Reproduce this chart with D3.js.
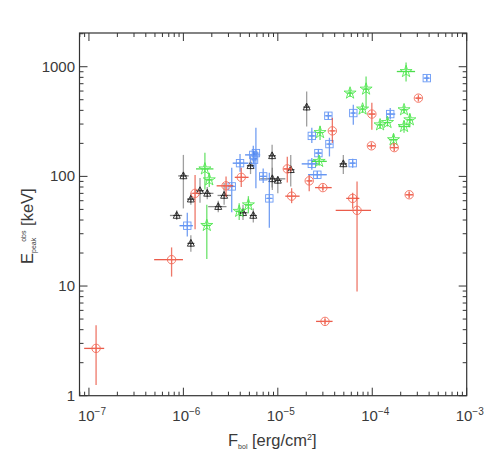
<!DOCTYPE html>
<html>
<head>
<meta charset="utf-8">
<script src="https://cdn.jsdelivr.net/npm/d3@7"></script>
<style>
  body { margin: 0; background: #fff; }
  text { font-family: "Liberation Sans", Arial, sans-serif; fill: #3a3a3a; }
</style>
</head>
<body>
<div id="chart"></div>
<script>
// each row: [F, F_lo, F_hi, E, E_lo, E_hi]
var redPts = [
  [1.19e-7, 8.9e-8, 1.45e-7, 2.7, 1.25, 4.4],
  [7.5e-7, 4.9e-7, 9.9e-7, 17.4, 12.2, 22.5],
  [1.33e-6, 1.25e-6, 1.42e-6, 70, 33, 103],
  [2.83e-6, 2.25e-6, 3.38e-6, 82, 65, 100],
  [4.1e-6, 3.5e-6, 4.9e-6, 98, 80, 120],
  [1.26e-5, 1.15e-5, 1.4e-5, 117, 88, 151],
  [1.4e-5, 1.2e-5, 1.7e-5, 66, 57, 78],
  [2.15e-5, 2.05e-5, 2.3e-5, 91, 73, 103],
  [3.0e-5, 2.48e-5, 3.72e-5, 79, 75, 84],
  [3.78e-5, 3.6e-5, 4.0e-5, 260, 202, 342],
  [3.16e-5, 2.54e-5, 3.8e-5, 4.76, 4.5, 5.0],
  [6.2e-5, 5.3e-5, 7.3e-5, 63, 51, 71],
  [6.9e-5, 4.1e-5, 9.7e-5, 49, 8.9, 90],
  [9.8e-5, 9.0e-5, 1.07e-4, 190, 180, 200],
  [1.71e-4, 1.55e-4, 1.88e-4, 183, 170, 197],
  [2.46e-4, 2.25e-4, 2.7e-4, 68, 64, 72],
  [3.08e-4, 2.9e-4, 3.3e-4, 517, 490, 545],
  [9.9e-5, 9.2e-5, 1.07e-4, 370, 266, 469]
];
var blackPts = [
  [1.0e-6, 8.8e-7, 1.14e-6, 101, 51, 157],
  [1.2e-6, 1.1e-6, 1.32e-6, 62, 55, 70],
  [8.5e-7, 7.2e-7, 9.7e-7, 44, 40, 49],
  [1.2e-6, 1.12e-6, 1.28e-6, 24.5, 20.5, 29],
  [1.5e-6, 1.35e-6, 1.65e-6, 74, 57.5, 96.5],
  [1.79e-6, 1.56e-6, 2.08e-6, 70, 62, 80],
  [2.34e-6, 1.83e-6, 2.86e-6, 53, 47, 60],
  [2.7e-6, 2.3e-6, 3.2e-6, 67, 55, 87],
  [4.28e-6, 3.8e-6, 4.8e-6, 46.6, 40, 55],
  [5.5e-6, 5.1e-6, 5.9e-6, 44, 38, 51],
  [5.14e-6, 4.7e-6, 5.6e-6, 125, 105, 150],
  [8.7e-6, 8.0e-6, 9.5e-6, 154, 79, 194],
  [8.75e-6, 6.5e-6, 1.2e-5, 95, 75, 120],
  [1.0e-5, 9.3e-6, 1.1e-5, 92, 70, 100],
  [1.37e-5, 1.25e-5, 1.5e-5, 115, 81, 157],
  [4.94e-5, 4.5e-5, 5.4e-5, 130, 105, 157],
  [2.02e-5, 1.92e-5, 2.12e-5, 428, 285, 594]
];
var bluePts = [
  [1.1e-6, 9.1e-7, 1.26e-6, 35.5, 28.3, 46.6],
  [3.25e-6, 3.0e-6, 3.5e-6, 81, 47, 120],
  [3.98e-6, 3.33e-6, 4.88e-6, 132, 110, 160],
  [5.5e-6, 4.5e-6, 6.5e-6, 157, 130, 190],
  [5.86e-6, 5.5e-6, 6.2e-6, 163, 78, 277],
  [5.6e-6, 5.3e-6, 5.9e-6, 142, 120, 170],
  [7.0e-6, 6.5e-6, 7.6e-6, 100, 87, 118],
  [8.13e-6, 7.7e-6, 8.6e-6, 63, 34, 108],
  [2.29e-5, 1.79e-5, 2.69e-5, 130, 115, 147],
  [2.62e-5, 2.09e-5, 3.3e-5, 103.5, 95, 112],
  [2.69e-5, 2.5e-5, 2.9e-5, 163, 150, 178],
  [2.29e-5, 2.15e-5, 2.45e-5, 234, 202, 277],
  [3.43e-5, 3.2e-5, 3.7e-5, 357, 330, 385],
  [3.52e-5, 3.35e-5, 3.7e-5, 197, 152, 225],
  [6.2e-5, 5.8e-5, 6.6e-5, 132, 120, 145],
  [6.3e-5, 6.0e-5, 6.6e-5, 378, 295, 450],
  [1.55e-4, 1.4e-4, 1.75e-4, 370, 330, 420],
  [3.78e-4, 3.55e-4, 4.0e-4, 787, 740, 835]
];
var greenPts = [
  [1.69e-6, 1.36e-6, 2.08e-6, 117, 76, 164],
  [1.88e-6, 1.75e-6, 2.0e-6, 93, 80, 108],
  [1.77e-6, 1.6e-6, 1.95e-6, 35.7, 17.6, 55],
  [3.9e-6, 3.6e-6, 4.3e-6, 48, 40, 57],
  [4.88e-6, 4.5e-6, 5.3e-6, 55, 46, 66],
  [2.8e-5, 2.65e-5, 2.95e-5, 251, 215, 290],
  [2.74e-5, 2.29e-5, 3.3e-5, 137, 125, 150],
  [5.82e-5, 5.5e-5, 6.15e-5, 575, 530, 620],
  [8.6e-5, 8.1e-5, 9.1e-5, 625, 420, 815],
  [7.9e-5, 7.5e-5, 8.3e-5, 411, 380, 445],
  [1.21e-4, 1.15e-4, 1.27e-4, 295, 270, 320],
  [1.45e-4, 1.38e-4, 1.52e-4, 310, 285, 340],
  [2.17e-4, 2.05e-4, 2.3e-4, 405, 375, 435],
  [2.5e-4, 2.35e-4, 2.65e-4, 328, 280, 375],
  [2.17e-4, 1.9e-4, 2.5e-4, 285, 250, 320],
  [1.68e-4, 1.5e-4, 1.85e-4, 216, 190, 245],
  [2.28e-4, 1.82e-4, 2.84e-4, 904, 733, 1090]
];
var xTicks = [1e-7, 1e-6, 1e-5, 1e-4, 1e-3];
var xTickExp = ["\u22127", "\u22126", "\u22125", "\u22124", "\u22123"];
var yTicks = [1, 10, 100, 1000];
var yTickLabels = ["1", "10", "100", "1000"];

var svgW = 491, svgH = 463;
var plotL = 79.5, plotR = 466.7, plotT = 33, plotB = 395.7;

var svg = d3.select("#chart").append("svg")
  .attr("width", svgW).attr("height", svgH);

var x = d3.scaleLog().domain([Math.pow(10, -7.1), 1e-3]).range([plotL, plotR]);
var y = d3.scaleLog().domain([1, 2030]).range([plotB, plotT]);

// ticks, IDL style (inside, on all four sides)
function isMajor(v) { var l = Math.log10(v); return Math.abs(l - Math.round(l)) < 1e-6; }
var xt = x.ticks().filter(function(v) { return x(v) >= plotL - 0.1 && x(v) <= plotR + 0.1; });
var yt = y.ticks().filter(function(v) { return v >= 1 && v <= 2030; });
var tickG = svg.append("g").attr("stroke", "#333").attr("stroke-width", 1);
xt.forEach(function(v) {
  var len = isMajor(v) ? 8 : 4;
  tickG.append("line").attr("x1", x(v)).attr("x2", x(v)).attr("y1", plotB).attr("y2", plotB - len);
  tickG.append("line").attr("x1", x(v)).attr("x2", x(v)).attr("y1", plotT).attr("y2", plotT + len);
});
yt.forEach(function(v) {
  var len = isMajor(v) ? 8 : 4;
  tickG.append("line").attr("x1", plotL).attr("x2", plotL + len).attr("y1", y(v)).attr("y2", y(v));
  tickG.append("line").attr("x1", plotR).attr("x2", plotR - len).attr("y1", y(v)).attr("y2", y(v));
});

// frame
svg.append("rect")
  .attr("x", plotL).attr("y", plotT)
  .attr("width", plotR - plotL).attr("height", plotB - plotT)
  .attr("fill", "none").attr("stroke", "#333").attr("stroke-width", 1.2);

// tick labels
xTicks.forEach(function(v, i) {
  var t = svg.append("text").attr("x", x(v) + 3).attr("y", 421)
    .attr("text-anchor", "middle").attr("font-size", 15);
  t.append("tspan").text("10");
  t.append("tspan").attr("dy", -6).attr("font-size", 10).text(xTickExp[i]);
});
yTicks.forEach(function(v, i) {
  svg.append("text").attr("x", 75).attr("y", y(v) + 5)
    .attr("text-anchor", "end").attr("font-size", 15).text(yTickLabels[i]);
});

// axis titles
var xt2 = svg.append("text").attr("x", 228).attr("y", 446).attr("font-size", 16.5);
xt2.append("tspan").text("F");
xt2.append("tspan").attr("dy", 3).attr("font-size", 7).text("bol");
xt2.append("tspan").attr("dy", -3).text(" [erg/cm");
xt2.append("tspan").attr("dy", -6).attr("font-size", 9).text("2");
xt2.append("tspan").attr("dy", 6).text("]");

var yt2 = svg.append("text").attr("transform", "translate(33,264) rotate(-90)").attr("font-size", 16.5);
yt2.append("tspan").text("E");
yt2.append("tspan").attr("dy", 3).attr("font-size", 7).text("peak");
yt2.append("tspan").attr("dy", -10).attr("dx", -4).attr("font-size", 7).text("obs");
yt2.append("tspan").attr("dy", 7).text(" [keV]");

// data
var series = [
  { pts: blackPts, err: "#777", mark: "#222", shape: "tri" },
  { pts: bluePts, err: "#3a78ee", mark: "#6a9af5", shape: "sq" },
  { pts: greenPts, err: "#2fd82f", mark: "#50e850", shape: "star" },
  { pts: redPts, err: "#e8402c", mark: "#f26a58", shape: "circ" }
];
var starPath = d3.symbol().type(d3.symbolStar).size(45)();

series.forEach(function(s) {
  var g = svg.append("g");
  var pt = g.selectAll("g.p").data(s.pts).enter().append("g").attr("class", "p");
  pt.append("line")
    .attr("x1", function(d) { return x(d[1]); }).attr("x2", function(d) { return x(d[2]); })
    .attr("y1", function(d) { return y(d[3]); }).attr("y2", function(d) { return y(d[3]); })
    .attr("stroke", s.err).attr("stroke-width", 1.3).attr("opacity", 0.85);
  pt.append("line")
    .attr("x1", function(d) { return x(d[0]); }).attr("x2", function(d) { return x(d[0]); })
    .attr("y1", function(d) { return y(d[4]); }).attr("y2", function(d) { return y(d[5]); })
    .attr("stroke", s.err).attr("stroke-width", 1.3).attr("opacity", 0.7);
  pt.each(function(d) {
    var m = d3.select(this).append("g")
      .attr("transform", "translate(" + x(d[0]) + "," + y(d[3]) + ")")
      .attr("fill", "none").attr("stroke", s.mark).attr("stroke-width", 0.9);
    if (s.shape === "tri") {
      m.append("path").attr("d", "M0,-4L3.5,2.8L-3.5,2.8Z");
    } else if (s.shape === "sq") {
      m.append("rect").attr("x", -3.7).attr("y", -3.7).attr("width", 7.4).attr("height", 7.4);
    } else if (s.shape === "circ") {
      m.append("circle").attr("r", 4.2);
    } else {
      m.append("path").attr("d", starPath);
    }
    m.append("path").attr("d", "M-3.5,0H3.5M0,-3.5V3.5");
  });
});
</script>
</body>
</html>
